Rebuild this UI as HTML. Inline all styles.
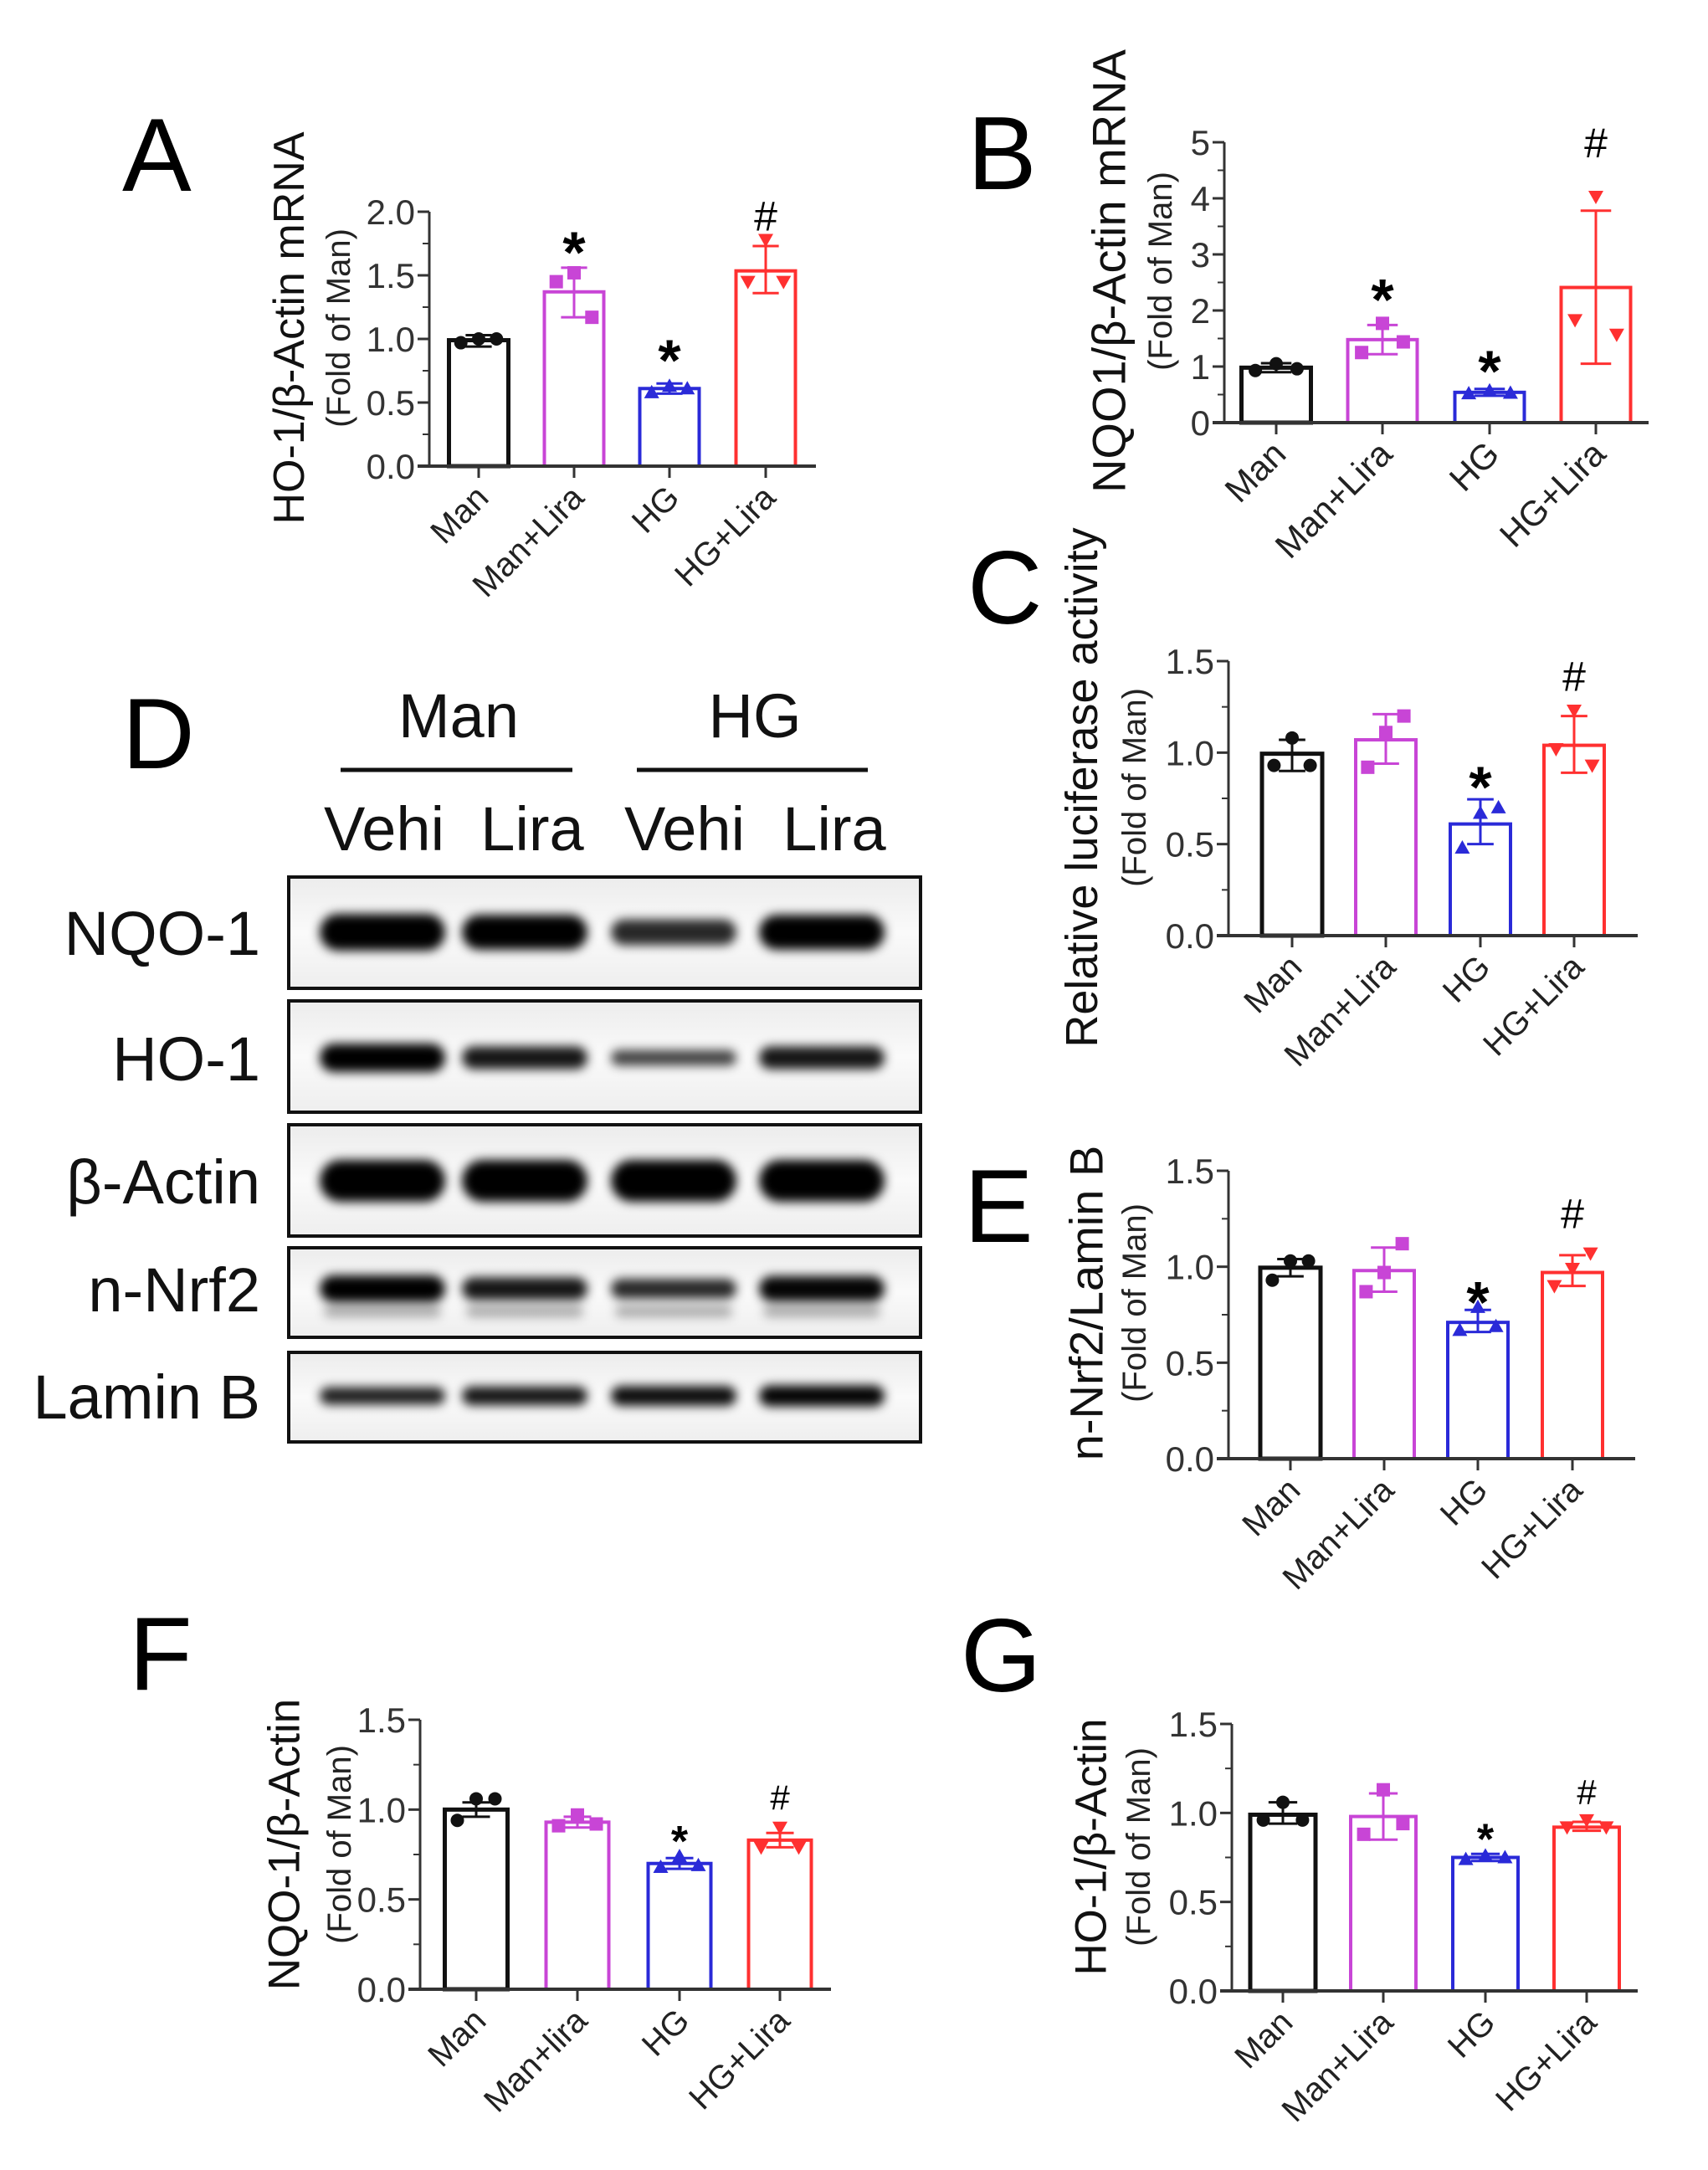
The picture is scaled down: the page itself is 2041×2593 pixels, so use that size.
<!DOCTYPE html>
<html><head><meta charset="utf-8"><style>
html,body{margin:0;padding:0;background:#fff;}
svg{display:block;font-family:"Liberation Sans",Arial,sans-serif;}
</style></head><body>
<svg id="fig" width="2041" height="2593" viewBox="0 0 2041 2593" xmlns="http://www.w3.org/2000/svg">
<defs>
<filter id="blur" x="-20%" y="-100%" width="140%" height="300%"><feGaussianBlur stdDeviation="6"/></filter>
<linearGradient id="blotbg" x1="0" y1="0" x2="0" y2="1"><stop offset="0" stop-color="#ececec"/><stop offset="0.5" stop-color="#fafafa"/><stop offset="1" stop-color="#eeeeee"/></linearGradient>
</defs>
</svg>
<script>
// ---------- data ----------
const cats = ["Man","Man+Lira","HG","HG+Lira"];
const catsF = ["Man","Man+lira","HG","HG+Lira"];
const meanA = [0.99, 1.37, 0.61, 1.535];
const errHiA = [1.03, 1.56, 0.65, 1.73];
const errLoA = [0.94, 1.17, 0.57, 1.36];
const ptsA = [[0.97,1.0,1.0],[1.45,1.52,1.17],[0.58,0.63,0.61],[1.45,1.78,1.45]];
const sigA = ["", "*", "*", "#"];
const sigYA = [0, 1.81, 0.96, 1.97];
const ticksA = [0,0.5,1,1.5,2];
const tickLabA = ["0.0","0.5","1.0","1.5","2.0"];

const meanB = [0.98, 1.48, 0.54, 2.41];
const errHiB = [1.06, 1.74, 0.6, 3.78];
const errLoB = [0.9, 1.22, 0.48, 1.05];
const ptsB = [[0.93,1.05,0.96],[1.25,1.77,1.44],[0.52,0.57,0.53],[1.83,4.03,1.57]];
const sigB = ["", "*", "*", "#"];
const sigYB = [0, 2.48, 1.21, 5.0];
const ticksB = [0,1,2,3,4,5];
const tickLabB = ["0","1","2","3","4","5"];

const meanC = [0.994, 1.07, 0.61, 1.04];
const errHiC = [1.07, 1.21, 0.745, 1.2];
const errLoC = [0.9, 0.94, 0.5, 0.89];
const ptsC = [[0.93,1.08,0.93],[0.92,1.11,1.2],[0.48,0.67,0.70],[1.02,1.23,0.93]];
const sigC = ["", "", "*", "#"];
const sigYC = [0, 0, 0.9, 1.42];
const ticksC = [0,0.5,1,1.5];
const tickLab15 = ["0.0","0.5","1.0","1.5"];

const meanE = [0.995, 0.98, 0.71, 0.97];
const errHiE = [1.04, 1.1, 0.775, 1.06];
const errLoE = [0.95, 0.87, 0.66, 0.9];
const ptsE = [[0.93,1.03,1.03],[0.87,0.97,1.12],[0.67,0.79,0.69],[0.9,0.99,1.07]];
const sigE = ["", "", "*", "#"];
const sigYE = [0, 0, 0.9, 1.28];

const meanF = [1.0, 0.93, 0.7, 0.83];
const errHiF = [1.04, 0.96, 0.73, 0.87];
const errLoF = [0.96, 0.9, 0.67, 0.79];
const ptsF = [[0.94,1.06,1.06],[0.91,0.97,0.92],[0.68,0.74,0.69],[0.79,0.9,0.79]];
const sigF = ["", "", "*", "#"];
const sigYF = [0, 0, 0.89, 1.07];

const meanG = [0.99, 0.98, 0.75, 0.92];
const errHiG = [1.06, 1.11, 0.77, 0.95];
const errLoG = [0.94, 0.85, 0.73, 0.9];
const ptsG = [[0.96,1.06,0.96],[0.88,1.13,0.94],[0.74,0.76,0.75],[0.92,0.96,0.92]];
const sigG = ["", "", "*", "#"];
const sigYG = [0, 0, 0.92, 1.12];

// blot band intensities (0-1) per lane
const blotRows = ["NQO-1","HO-1","β-Actin","n-Nrf2","Lamin B"];
const bandNQO1 = [1.0, 0.95, 0.7, 0.95];
const bandHO1 = [1.0, 0.8, 0.55, 0.8];
const bandActin = [1.0, 1.0, 1.0, 1.0];
const bandNrf2 = [0.95, 0.8, 0.7, 0.9];
const bandLamin = [0.75, 0.8, 0.85, 0.9];

// ---------- drawing ----------
const NS = "http://www.w3.org/2000/svg";
const svg = document.getElementById("fig");
const colors = ["#111111","#c845d6","#2a2ad8","#ff3030"];
function mk(tag, attrs, parent){
  const e = document.createElementNS(NS, tag);
  for (const k in attrs) e.setAttribute(k, attrs[k]);
  (parent||svg).appendChild(e);
  return e;
}
function txt(s, attrs, parent){ const t = mk("text", attrs, parent); t.textContent = s; return t; }

function marker(g, kind, x, y, c){
  const r = 8;
  let m;
  if (kind===0) m = mk("circle",{cx:x,cy:y,r:r,fill:c},g);
  else if (kind===1) m = mk("rect",{x:x-r,y:y-r,width:2*r,height:2*r,fill:c},g);
  else if (kind===2) m = mk("polygon",{points:`${x},${y-r-1} ${x-r-1},${y+r-1} ${x+r+1},${y+r-1}`,fill:c},g);
  else m = mk("polygon",{points:`${x},${y+r+1} ${x-r-1},${y-r+1} ${x+r+1},${y-r+1}`,fill:c},g);
  
  
}

function panel(id, L, catsArr, mean, hi, lo, pts, sig, sigY, ticks, tickLab){
  const g = mk("g",{});
  
  
  const ys = v => L.y0 - (v / L.max) * (L.y0 - L.yTop);
  const lt = txt(id,{x:L.lx,y:L.ly,"font-size":L.lsize,fill:"#000"},g);
  
  
  for (let i=0;i<mean.length;i++){
    const cx = L.centers[i], c = colors[i];
    const b = mk("rect",{x:cx-L.bw/2,y:ys(mean[i]),width:L.bw,height:L.y0-ys(mean[i]),fill:"none",stroke:c,"stroke-width":i===0?5:4},g);
    
    
    const eb = mk("path",{d:`M${cx},${ys(lo[i])}V${ys(hi[i])}M${cx-L.bw*0.22},${ys(hi[i])}H${cx+L.bw*0.22}M${cx-L.bw*0.22},${ys(lo[i])}H${cx+L.bw*0.22}`,stroke:c,"stroke-width":3,fill:"none"},g);
    
    
    const offs = [-0.3,0,0.3];
    pts[i].forEach((p,j)=> marker(g,i,cx+offs[j]*L.bw,ys(p),c));
    if (sig[i]){
      const fs = sig[i]==="*" ? L.starSize : L.hashSize;
      const dy = sig[i]==="*" ? 0.62*fs : 0.36*fs;
      const s = txt(sig[i],{x:cx,y:ys(sigY[i])+dy,"font-size":fs,"text-anchor":"middle",fill:"#000","font-weight":sig[i]==="*"?"bold":"normal"},g);
      
      
    }
    mk("line",{x1:cx,y1:L.y0,x2:cx,y2:L.y0+14,stroke:"#333","stroke-width":3},g);
    const cl = txt(catsArr[i],{x:0,y:0,"font-size":L.csize,"text-anchor":"end",fill:"#222",transform:`translate(${cx+14},${L.y0+40}) rotate(-45)`},g);
    
    
  }
  const ya = mk("line",{x1:L.x0,y1:L.yTop,x2:L.x0,y2:L.y0,stroke:"#333","stroke-width":3},g);
  
  
  const xa = mk("line",{x1:L.x0-14,y1:L.y0,x2:L.xEnd,y2:L.y0,stroke:"#333","stroke-width":4},g);
  
  
  ticks.forEach((t,k)=>{
    mk("line",{x1:L.x0-14,y1:ys(t),x2:L.x0,y2:ys(t),stroke:"#333","stroke-width":3},g);
    if (k<ticks.length-1){ const m=(t+ticks[k+1])/2; mk("line",{x1:L.x0-8,y1:ys(m),x2:L.x0,y2:ys(m),stroke:"#333","stroke-width":2},g); }
    const tl = txt(tickLab[k],{x:L.x0-17,y:ys(t)+15,"font-size":42,"text-anchor":"end",fill:"#333"},g);
    
    
  });
  const yt = txt(L.title,{x:0,y:0,"font-size":L.tsize,"text-anchor":"middle","dominant-baseline":"central",fill:"#111",transform:`translate(${L.tx},${L.tmid}) rotate(-90)`},g);
  
  
  const st = txt("(Fold of Man)",{x:0,y:0,"font-size":40,"text-anchor":"middle","dominant-baseline":"central",fill:"#222",transform:`translate(${L.sx},${L.tmid}) rotate(-90)`},g);
  
  
}

panel("A",{x0:513,y0:557,yTop:253,xEnd:975,max:2,centers:[572,686,800,915],bw:71,title:"HO-1/β-Actin mRNA",tsize:52,tx:346,sx:405,tmid:392,lx:146,ly:228,lsize:124,csize:40,starSize:70,hashSize:50},
  cats,meanA,errHiA,errLoA,ptsA,sigA,sigYA,ticksA,tickLabA);
panel("B",{x0:1463,y0:505,yTop:170,xEnd:1970,max:5,centers:[1525,1652,1780,1907],bw:83,title:"NQO1/β-Actin mRNA",tsize:56,tx:1325,sx:1387,tmid:324,lx:1156,ly:226,lsize:124,csize:42,starSize:70,hashSize:50},
  cats,meanB,errHiB,errLoB,ptsB,sigB,sigYB,ticksB,tickLabB);
panel("C",{x0:1468,y0:1118,yTop:790,xEnd:1957,max:1.5,centers:[1544,1656,1769,1881],bw:72,title:"Relative luciferase activity",tsize:54,tx:1293,sx:1356,tmid:941,lx:1156,ly:745,lsize:124,csize:40,starSize:70,hashSize:50},
  cats,meanC,errHiC,errLoC,ptsC,sigC,sigYC,ticksC,tickLab15);
panel("E",{x0:1468,y0:1743,yTop:1399,xEnd:1954,max:1.5,centers:[1542,1654,1766,1879],bw:72,title:"n-Nrf2/Lamin B",tsize:56,tx:1298,sx:1356,tmid:1557,lx:1152,ly:1484,lsize:124,csize:40,starSize:70,hashSize:50},
  cats,meanE,errHiE,errLoE,ptsE,sigE,sigYE,ticksC,tickLab15);
panel("F",{x0:502,y0:2377,yTop:2055,xEnd:993,max:1.5,centers:[569,690,812,932],bw:75,title:"NQO-1/β-Actin",tsize:53,tx:340,sx:406,tmid:2204,lx:154,ly:2019,lsize:124,csize:40,starSize:52,hashSize:42},
  catsF,meanF,errHiF,errLoF,ptsF,sigF,sigYF,ticksC,tickLab15);
panel("G",{x0:1472,y0:2379,yTop:2060,xEnd:1957,max:1.5,centers:[1533,1653,1775,1896],bw:78,title:"HO-1/β-Actin",tsize:53,tx:1304,sx:1361,tmid:2207,lx:1148,ly:2021,lsize:124,csize:40,starSize:52,hashSize:42},
  cats,meanG,errHiG,errLoG,ptsG,sigG,sigYG,ticksC,tickLab15);

// ---------- western blot (D) ----------
(function(){
  const g = mk("g",{});
  
  
  const L = txt("D",{x:146,y:918,"font-size":120,fill:"#000"},g);
  
  
  const hm = txt("Man",{x:548,y:881,"font-size":74,"text-anchor":"middle",fill:"#111"},g);
  
  
  const hh = txt("HG",{x:902,y:881,"font-size":74,"text-anchor":"middle",fill:"#111"},g);
  
  
  mk("line",{x1:407,y1:920,x2:684,y2:920,stroke:"#111","stroke-width":5},g);
  mk("line",{x1:761,y1:920,x2:1037,y2:920,stroke:"#111","stroke-width":5},g);
  const lanes = [457,627,805,982];
  const laneLab = ["Vehi","Lira","Vehi","Lira"];
  const lanesX = [459,636,818,997];
  laneLab.forEach((s,i)=>{
    const t = txt(s,{x:lanesX[i],y:1016,"font-size":74,"text-anchor":"middle",fill:"#111"},g);
    
    
  });
  const rows = [[1048,1181,1114,bandNQO1,44],[1196,1329,1264,bandHO1,34],[1344,1477,1411,bandActin,50],[1491,1598,1540,bandNrf2,34],[1616,1723,1668,bandLamin,28]];
  rows.forEach((r,ri)=>{
    const box = mk("rect",{x:345,y:r[0],width:755,height:r[1]-r[0],fill:"url(#blotbg)",stroke:"#111","stroke-width":4},g);
    
    
    r[3].forEach((v,li)=>{
      const b = mk("rect",{x:lanes[li]-75,y:r[2]-r[4]*v/2,width:150,height:r[4]*v,rx:r[4]*v/2,fill:"#000","fill-opacity":Math.min(1,0.35+v*0.7),filter:"url(#blur)"},g);
      
      
      if (ri===3){ mk("rect",{x:lanes[li]-70,y:r[2]+20,width:140,height:14,rx:7,fill:"#000","fill-opacity":0.3,filter:"url(#blur)"},g); }
    });
    const lab = txt(blotRows[ri],{x:311,y:r[2]+27,"font-size":74,"text-anchor":"end",fill:"#111"},g);
    
    
  });
})();
</script>
</body></html>
